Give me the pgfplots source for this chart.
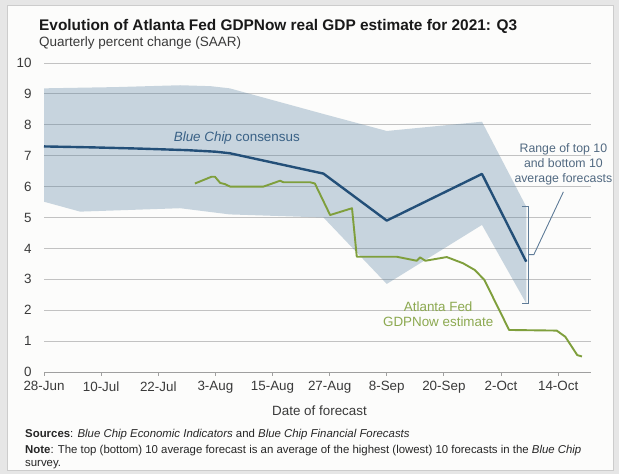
\documentclass[border=0pt]{standalone}
\usepackage{fontspec}
\setmainfont{Liberation Sans}
\usepackage{pgfplots}
\pgfplotsset{compat=1.18}

\definecolor{framegrey}{HTML}{E6E6E6}
\definecolor{paper}{HTML}{FCFCFB}
\definecolor{band}{HTML}{547E9E}
\definecolor{bcblue}{HTML}{234F78}
\definecolor{gdpgreen}{HTML}{7F9F3C}
\definecolor{gridgrey}{HTML}{C2C2C2}
\definecolor{ticktext}{HTML}{3A3A3A}
\definecolor{rangeblue}{HTML}{5F7C98}

\begin{document}
\begin{tikzpicture}[x=1pt,y=1pt]
\fill[framegrey] (0,0) rectangle (619,474);
\fill[paper, draw=gray!40] (7,4) rectangle (613,469);

\node[anchor=base west, inner sep=0, font=\bfseries\fontsize{15.4}{17}\selectfont, text=black!90]
  at (39,443) {Evolution of Atlanta Fed GDPNow real GDP estimate for 2021: Q3};
\node[anchor=base west, inner sep=0, font=\fontsize{13.5}{15}\selectfont, text=ticktext]
  at (39,427.5) {Quarterly percent change (SAAR)};

\node[anchor=base, inner sep=0, font=\fontsize{13.4}{15}\selectfont, text=ticktext]
  at (319.5,58) {Date of forecast};

\node[anchor=base west, inner sep=0, font=\fontsize{11.4}{13}\selectfont, text=black!85]
  at (25,36) {\textbf{Sources}: \textit{Blue Chip Economic Indicators} and \textit{Blue Chip Financial Forecasts}};
\node[anchor=base west, inner sep=0, font=\fontsize{11.4}{13}\selectfont, text=black!85]
  at (25,20.5) {\textbf{Note}: The top (bottom) 10 average forecast is an average of the highest (lowest) 10 forecasts in the \textit{Blue Chip}};
\node[anchor=base west, inner sep=0, font=\fontsize{11.4}{13}\selectfont, text=black!85]
  at (25,7.5) {survey.};

\begin{axis}[
    at={(44pt,102pt)}, anchor=south west,
    scale only axis, width=547pt, height=309pt,
    xmin=0, xmax=114.9, ymin=0, ymax=10,
    clip=false,
    axis x line*=bottom, axis y line*=left,
    x axis line style={draw=gray!75, line width=0.8pt},
    y axis line style={draw=none},
    xtick={0,12,...,108},
    xticklabels={28-Jun,10-Jul,22-Jul,3-Aug,15-Aug,27-Aug,8-Sep,20-Sep,2-Oct,14-Oct},
    ytick={0,1,...,10},
    ymajorgrids,
    grid style={gridgrey, line width=0.8pt},
    tick align=outside, major tick length=4pt,
    x tick style={gray!75, line width=0.8pt},
    y tick style={draw=none},
    tick label style={font=\fontsize{13.4}{15}\selectfont, text=ticktext},
    /pgf/number format/assume math mode=true,
    yticklabel style={xshift=-5pt},
    xticklabel style={yshift=-2pt},
]

% range of top 10 and bottom 10 average forecasts
\addplot[fill=band, fill opacity=0.31, draw=none] coordinates {
 (0,9.18) (15,9.22) (28.6,9.28) (35,9.25) (39,9.18) (58.7,8.35) (72,7.80) (92,8.10) (101.3,5.35)
 (101.3,2.22) (92,4.76) (72,2.85) (58.7,5.00) (39,5.10) (28.6,5.30) (7.6,5.19) (0,5.51)
};

% Blue Chip consensus
\addplot[bcblue, line width=2.4pt, line join=round] coordinates {
 (0,7.30) (10,7.27) (20,7.23) (30,7.18) (36,7.13) (39,7.08) (58.7,6.42) (72,4.90) (92,6.41) (101.3,3.57)
};

% GDPNow estimate
\addplot[gdpgreen, line width=1.9pt, line join=round] coordinates {
 (31.7,6.10) (35.2,6.32) (35.9,6.32) (37.0,6.12) (38.0,6.08) (39.1,6.00) (46.1,6.00)
 (49.6,6.19) (50.3,6.14) (55.9,6.14) (56.9,6.10) (60.1,5.08) (64.7,5.30) (65.7,3.73)
 (74.1,3.73) (78.3,3.60) (79.0,3.71) (80.1,3.60) (84.6,3.72) (88.0,3.52) (90.5,3.30)
 (92.5,2.98) (97.7,1.36) (107.7,1.34) (109.5,1.14) (112,0.55) (113,0.50)
};

\draw[rangeblue, line width=0.9pt] (axis cs:100.4,5.35) -- (axis cs:101.8,5.35)
   -- (axis cs:101.8,2.22) -- (axis cs:100.4,2.22);
\draw[rangeblue, line width=0.9pt] (axis cs:101.8,3.80) -- (axis cs:102.9,3.80)
   -- (axis cs:109.1,5.83);

\node[font=\fontsize{13.4}{15}\selectfont, text=bcblue!90] at (axis cs:40.5,7.58)
   {\textit{Blue Chip} consensus};
\node[font=\fontsize{12.3}{15}\selectfont, text=rangeblue!85!black, align=center]
   at (axis cs:109.1,6.73) {Range of top 10\\and bottom 10\\average forecasts};
\node[font=\fontsize{13.4}{15}\selectfont, text=gdpgreen!90!white, align=center]
   at (axis cs:82.8,1.87) {Atlanta Fed\\GDPNow estimate};
\end{axis}
\end{tikzpicture}
\end{document}
